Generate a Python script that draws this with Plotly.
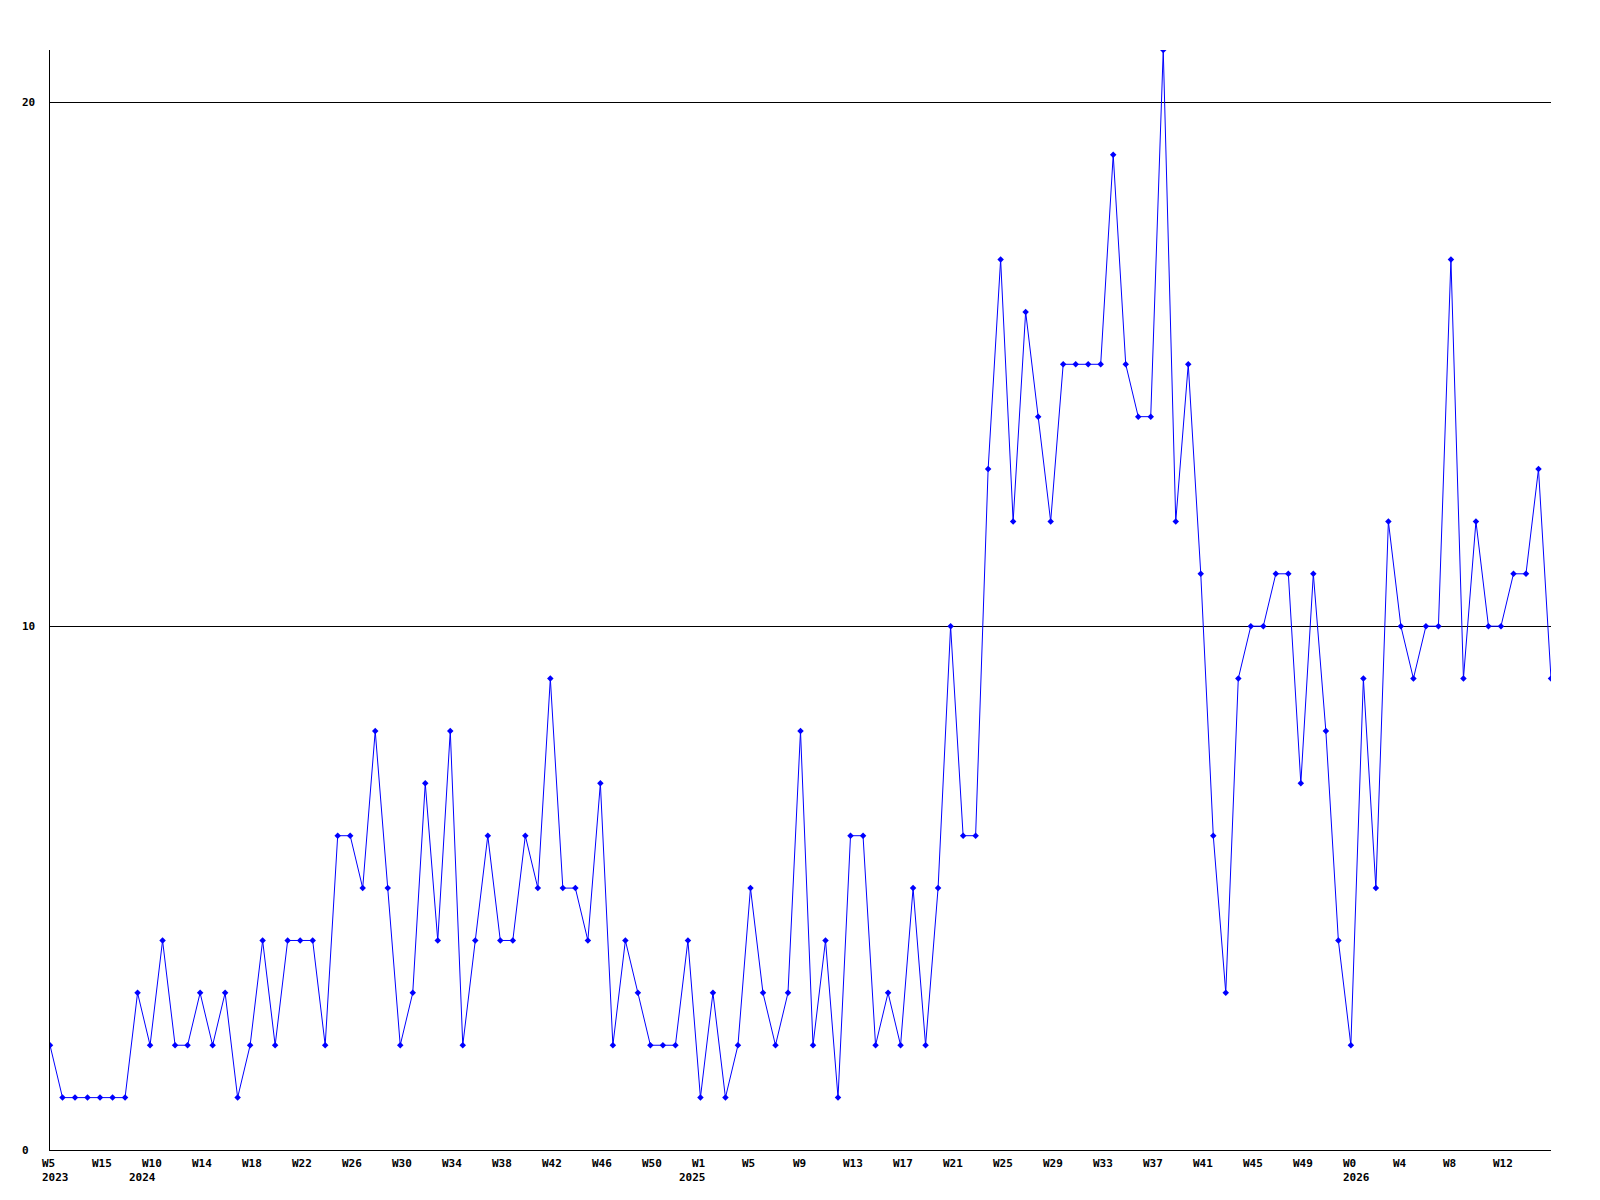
import plotly.graph_objects as go

# weekly counts, one per week (index 0 .. 120)
values = [
    2, 1, 1, 1, 1, 1, 1, 3, 2, 4,
    2, 2, 3, 2, 3, 1, 2, 4, 2, 4,
    4, 4, 2, 6, 6, 5, 8, 5, 2, 3,
    7, 4, 8, 2, 4, 6, 4, 4, 6, 5,
    9, 5, 5, 4, 7, 2, 4, 3, 2, 2,
    2, 4, 1, 3, 1, 2, 5, 3, 2, 3,
    8, 2, 4, 1, 6, 6, 2, 3, 2, 5,
    2, 5, 10, 6, 6, 13, 17, 12, 16, 14,
    12, 15, 15, 15, 15, 19, 15, 14, 14, 21,
    12, 15, 11, 6, 3, 9, 10, 10, 11, 11,
    7, 11, 8, 4, 2, 9, 5, 12, 10, 9,
    10, 10, 17, 9, 12, 10, 10, 11, 11, 13,
    9,
]
x_idx = list(range(len(values)))

# x axis labels, every 4th point
week_labels = ["W5", "W15", "W10", "W14", "W18", "W22", "W26", "W30", "W34", "W38",
               "W42", "W46", "W50", "W1", "W5", "W9", "W13", "W17", "W21", "W25",
               "W29", "W33", "W37", "W41", "W45", "W49", "W0", "W4", "W8", "W12"]
week_pos = list(range(0, 120, 4))
year_labels = ["2023", "2024", "2025", "2026"]
year_pos = [0, 8, 52, 104]
year_shift = [-10, -23, -23, -10]

y_ticks = [0, 10, 20]

font = dict(family="DejaVu Sans Mono", size=11, color="black")

fig = go.Figure()
fig.add_trace(go.Scatter(
    x=x_idx,
    y=values,
    mode="lines+markers",
    line=dict(color="#0000ff", width=1),
    marker=dict(symbol="diamond", size=5, color="#0000ff"),
    showlegend=False,
    hoverinfo="y",
))

# week labels
for pos, lab in zip(week_pos, week_labels):
    fig.add_annotation(x=pos, y=0, xref="x", yref="y", text="<b>%s</b>" % lab,
                       showarrow=False, xanchor="left", yanchor="top",
                       xshift=-10, yshift=-5, font=font)
# year labels
for pos, lab, sh in zip(year_pos, year_labels, year_shift):
    fig.add_annotation(x=pos, y=0, xref="x", yref="y", text="<b>%s</b>" % lab,
                       showarrow=False, xanchor="left", yanchor="top",
                       xshift=sh, yshift=-19, font=font)
# y labels
for v in y_ticks:
    fig.add_annotation(x=0, y=v, xref="paper", yref="y", text="<b>%d</b>" % v,
                       showarrow=False, xanchor="left", yanchor="middle",
                       xshift=-30, font=font)

# page body has an 8px margin, so the figure is a bit smaller
fig.update_layout(
    width=1592, height=1192,
    margin=dict(l=42, r=49, t=42, b=50),
    paper_bgcolor="white",
    plot_bgcolor="white",
    font=font,
)
fig.update_xaxes(range=[0, 120], showgrid=False, zeroline=False,
                 showline=True, linecolor="black", linewidth=1,
                 showticklabels=False, ticks="")
fig.update_yaxes(range=[0, 21], tickvals=[10, 20], showgrid=True,
                 gridcolor="black", gridwidth=1, zeroline=False,
                 showline=True, linecolor="black", linewidth=1,
                 showticklabels=False, ticks="")

fig.write_html("out.html")
